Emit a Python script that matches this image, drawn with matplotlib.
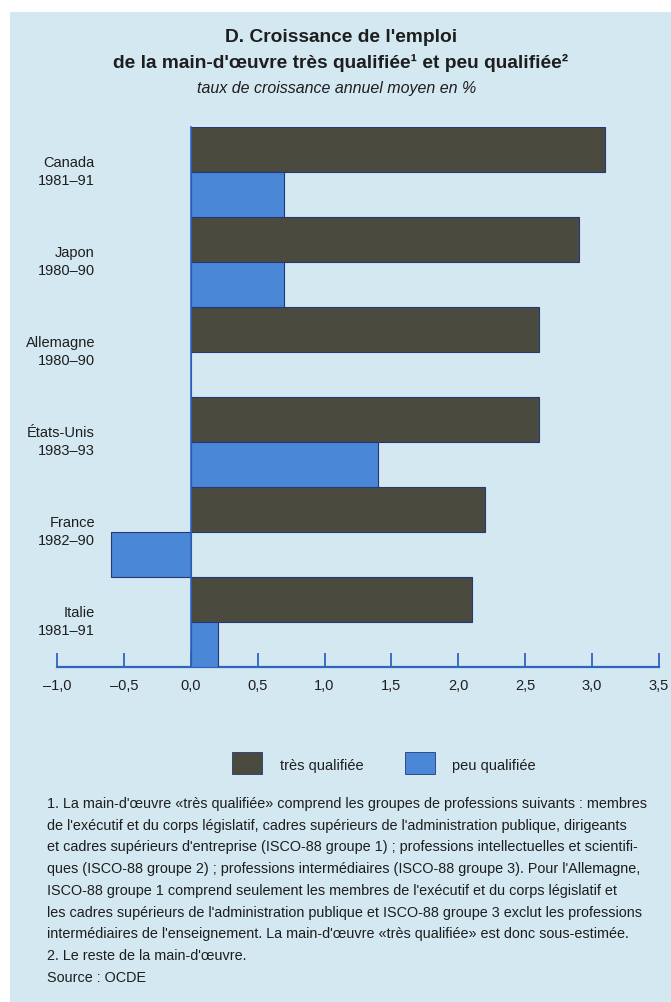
import matplotlib
matplotlib.use("Agg")
import matplotlib.pyplot as plt
from matplotlib.patches import Rectangle
import matplotlib.transforms as mtransforms

# Data
countries = ["Canada\n1981–91", "Japon\n1980–90", "Allemagne\n1980–90",
             "États-Unis\n1983–93", "France\n1982–90", "Italie\n1981–91"]
tres_qualifiee = [3.1, 2.9, 2.6, 2.6, 2.2, 2.1]
peu_qualifiee = [0.7, 0.7, 0.0, 1.4, -0.6, 0.2]
xticks = [-1.0, -0.5, 0.0, 0.5, 1.0, 1.5, 2.0, 2.5, 3.0, 3.5]
xtick_labels = ["–1,0", "–0,5", "0,0", "0,5", "1,0", "1,5", "2,0", "2,5", "3,0", "3,5"]
legend_labels = ["très qualifiée", "peu qualifiée"]

title1 = "D. Croissance de l'emploi"
title2 = "de la main-d'œuvre très qualifiée¹ et peu qualifiée²"
subtitle = "taux de croissance annuel moyen en %"
notes = [
    "1. La main-d'œuvre «très qualifiée» comprend les groupes de professions suivants : membres",
    "de l'exécutif et du corps législatif, cadres supérieurs de l'administration publique, dirigeants",
    "et cadres supérieurs d'entreprise (ISCO-88 groupe 1) ; professions intellectuelles et scientifi-",
    "ques (ISCO-88 groupe 2) ; professions intermédiaires (ISCO-88 groupe 3). Pour l'Allemagne,",
    "ISCO-88 groupe 1 comprend seulement les membres de l'exécutif et du corps législatif et",
    "les cadres supérieurs de l'administration publique et ISCO-88 groupe 3 exclut les professions",
    "intermédiaires de l'enseignement. La main-d'œuvre «très qualifiée» est donc sous-estimée.",
    "2. Le reste de la main-d'œuvre.",
    "Source : OCDE",
]

plt.rcParams["font.family"] = ["Liberation Sans", "DejaVu Sans"]

BG = "#d4e8f1"
DARK = "#4a4a3f"
BLUE = "#4a87d6"
EDGE = "#243a78"
AXIS = "#2f64c0"
TEXT = "#1e1e1e"

W, H = 671, 1002
fig = plt.figure(figsize=(W / 100, H / 100), dpi=100)
fig.patch.set_facecolor("white")
fig.patches.append(Rectangle((10 / W, 0), 1 - 10 / W, 1 - 12 / H, transform=fig.transFigure,
                             facecolor=BG, edgecolor="none", zorder=-5))


def fx(px):
    return px / W


def fy(py):
    return 1 - py / H


ax = fig.add_axes([fx(57), fy(667), fx(659) - fx(57), fy(127) - fy(667)])
ax.set_zorder(2)
ax.set_facecolor("none")

n = len(countries)
pos = list(range(n))
bar_h = 0.5
ax.barh([p + 0.25 for p in pos], tres_qualifiee, height=bar_h, color=DARK,
        edgecolor=EDGE, linewidth=0.8, zorder=3)
ax.barh([p + 0.75 for p in pos], peu_qualifiee, height=bar_h, color=BLUE,
        edgecolor=EDGE, linewidth=0.8, zorder=3)

ax.set_xlim(-1.0, 3.5)
ax.set_ylim(n, 0)

for s in ["top", "right"]:
    ax.spines[s].set_visible(False)
ax.spines["left"].set_position(("data", 0))
ax.spines["left"].set_color(AXIS)
ax.spines["left"].set_linewidth(1.2)
ax.spines["left"].set_zorder(4)
ax.spines["bottom"].set_color(AXIS)
ax.spines["bottom"].set_linewidth(1.6)
ax.set_yticks([])

ax.set_xticks(xticks)
ax.set_xticklabels(xtick_labels, fontsize=10.5, color=TEXT)
ax.tick_params(axis="x", direction="in", length=10, width=1.3, color=AXIS, pad=9)

trans = mtransforms.blended_transform_factory(ax.transAxes, ax.transData)
for p, lab in zip(pos, countries):
    ax.text((95 - 57) / (659 - 57), p + 0.5, lab, transform=trans, ha="right",
            va="center", fontsize=10.5, color=TEXT, linespacing=1.45)

# Titles
fig.text(fx(341), fy(38), title1, ha="center", va="center", fontsize=13.8,
         fontweight="bold", color=TEXT)
fig.text(fx(341), fy(63), title2, ha="center", va="center", fontsize=13.8,
         fontweight="bold", color=TEXT)
fig.text(fx(337), fy(88), subtitle, ha="center", va="center", fontsize=11.5,
         style="italic", color=TEXT)

# Legend
for (x0, col, lab, tx) in [(232, DARK, legend_labels[0], 280),
                           (405, BLUE, legend_labels[1], 452)]:
    fig.patches.append(Rectangle((fx(x0), fy(774)), fx(30), 22 / H,
                                 transform=fig.transFigure, facecolor=col,
                                 edgecolor=EDGE, linewidth=0.6, zorder=2))
    fig.text(fx(tx), fy(766), lab, ha="left", va="center", fontsize=10.5, color=TEXT)

# Notes
for i, line in enumerate(notes):
    fig.text(fx(47), fy(804 + i * 21.7), line, ha="left", va="center",
             fontsize=10.4, color=TEXT)

fig.savefig("out.png", dpi=100, facecolor=fig.get_facecolor())
